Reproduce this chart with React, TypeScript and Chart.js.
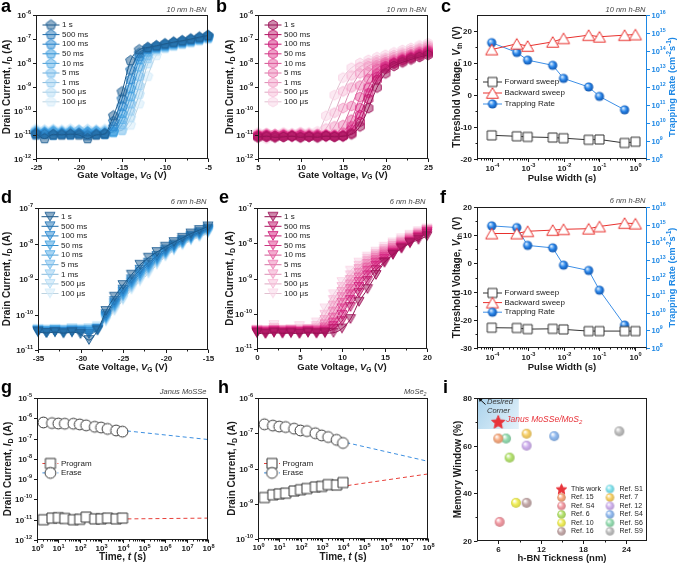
import { useEffect, useRef } from 'react';
import { Chart, registerables } from 'chart.js';

Chart.register(...registerables);

const PAGE_W = 678;
const PAGE_H = 565;
const FONT = 'Arial, "Liberation Sans", Helvetica, sans-serif';
const INK = '#1b1b1b';

// ---------------- transfer curves (a, b, d, e) ----------------
// Each row: log10 of drain current (A) at the matching gate voltage.
const PULSES = ['1 s', '500 ms', '100 ms', '50 ms', '10 ms', '5 ms', '1 ms', '500 μs', '100 μs'];

// a: 10 nm h-BN, negative sweep
const VG_A = [-25, -24, -23, -22, -21, -20, -19, -18, -17, -16, -15, -14, -13, -12, -11, -10, -9, -8, -7, -6, -5];
const A_1S = [-10.95, -11.15, -10.97, -11.0, -10.96, -11.0, -11.15, -11.0, -10.95, -10.2, -9.2, -7.9, -7.45, -7.35, -7.28, -7.2, -7.13, -7.07, -7.0, -6.92, -6.85];
const A_500MS = [-11.0, -10.98, -11.02, -10.97, -11.0, -10.95, -11.03, -10.98, -10.97, -10.43, -9.5, -8.29, -7.59, -7.38, -7.3, -7.22, -7.15, -7.09, -7.02, -6.95, -6.87];
const A_100MS = [-10.95, -10.92, -10.97, -10.94, -10.98, -10.93, -10.96, -10.95, -10.96, -10.65, -9.8, -8.68, -7.72, -7.41, -7.32, -7.24, -7.17, -7.11, -7.04, -6.97, -6.89];
const A_50MS = [-10.9, -10.93, -10.88, -10.92, -10.9, -10.94, -10.89, -10.92, -10.93, -10.85, -10.1, -9.07, -7.86, -7.44, -7.35, -7.27, -7.19, -7.13, -7.06, -6.99, -6.91];
const A_10MS = [-10.88, -10.9, -10.86, -10.91, -10.87, -10.9, -10.88, -10.86, -10.9, -10.9, -10.35, -9.4, -8.16, -7.54, -7.38, -7.3, -7.21, -7.15, -7.08, -7.0, -6.93];
const A_5MS = [-10.85, -10.88, -10.84, -10.87, -10.86, -10.83, -10.88, -10.85, -10.86, -10.88, -10.57, -9.7, -8.55, -7.68, -7.4, -7.32, -7.24, -7.17, -7.1, -7.02, -6.95];
const A_1MS = [-10.83, -10.85, -10.82, -10.86, -10.84, -10.82, -10.85, -10.83, -10.84, -10.85, -10.8, -10.0, -8.94, -7.81, -7.43, -7.34, -7.26, -7.19, -7.12, -7.04, -6.96];
const A_500US = [-10.8, -10.82, -10.79, -10.83, -10.8, -10.81, -10.79, -10.82, -10.8, -10.82, -10.8, -10.28, -9.3, -8.03, -7.5, -7.37, -7.28, -7.21, -7.14, -7.06, -6.98];
const A_100US = [-10.75, -10.78, -10.76, -10.79, -10.75, -10.77, -10.76, -10.78, -10.76, -10.77, -10.78, -10.58, -9.7, -8.55, -7.68, -7.4, -7.3, -7.23, -7.16, -7.08, -7.0];

// b: 10 nm h-BN, positive sweep
const VG_B = [5, 6, 7, 8, 9, 10, 11, 12, 13, 14, 15, 16, 17, 18, 19, 20, 21, 22, 23, 24, 25];
const B_1S = [-11.1, -11.05, -11.1, -11.08, -11.05, -11.1, -11.07, -11.1, -11.05, -11.08, -11.05, -10.97, -10.64, -9.88, -9.02, -8.43, -8.12, -7.97, -7.85, -7.75, -7.66];
const B_500MS = [-11.05, -11.08, -11.04, -11.07, -11.05, -11.08, -11.05, -11.07, -11.04, -11.06, -11.05, -10.92, -10.45, -9.5, -8.7, -8.25, -8.03, -7.9, -7.79, -7.69, -7.6];
const B_100MS = [-11.05, -11.02, -11.06, -11.03, -11.05, -11.02, -11.06, -11.03, -11.05, -11.04, -11.03, -10.78, -10.17, -9.26, -8.57, -8.18, -8.0, -7.87, -7.76, -7.65, -7.55];
const B_50MS = [-11.02, -11.0, -11.05, -11.0, -11.03, -11.0, -11.05, -11.02, -11.0, -11.03, -11.0, -10.64, -9.88, -9.02, -8.43, -8.12, -7.97, -7.84, -7.72, -7.61, -7.5];
const B_10MS = [-11.0, -11.03, -10.98, -11.02, -11.0, -11.04, -10.99, -11.02, -11.0, -11.01, -10.9, -10.36, -9.42, -8.66, -8.23, -8.02, -7.9, -7.78, -7.66, -7.55, -7.45];
const B_5MS = [-11.0, -10.97, -11.02, -10.98, -11.0, -10.96, -11.0, -10.98, -11.0, -10.98, -10.59, -9.79, -8.94, -8.39, -8.1, -7.96, -7.85, -7.73, -7.62, -7.51, -7.4];
const B_1MS = [-10.97, -10.95, -11.0, -10.96, -10.98, -10.94, -10.97, -10.95, -10.96, -10.64, -9.88, -9.02, -8.43, -8.12, -7.98, -7.87, -7.76, -7.65, -7.54, -7.43, -7.32];
const B_500US = [-10.95, -10.92, -10.97, -10.93, -10.95, -10.9, -10.94, -10.96, -10.73, -10.07, -9.18, -8.52, -8.16, -8.0, -7.88, -7.78, -7.67, -7.56, -7.46, -7.36, -7.26];
const B_100US = [-10.9, -11.15, -10.95, -10.9, -10.93, -10.9, -10.9, -10.85, -10.2, -9.34, -8.61, -8.2, -8.0, -7.87, -7.76, -7.66, -7.56, -7.46, -7.37, -7.27, -7.18];

// d: 6 nm h-BN, negative sweep
const VG_D = [-35, -34, -33, -32, -31, -30, -29, -28, -27, -26, -25, -24, -23, -22, -21, -20, -19, -18, -17, -16, -15];
const D_1S = [-10.48, -10.52, -10.5, -10.53, -10.5, -10.55, -10.72, -10.45, -9.9, -9.5, -9.17, -8.88, -8.6, -8.4, -8.24, -8.09, -7.96, -7.84, -7.72, -7.62, -7.52];
const D_500MS = [-10.5, -10.52, -10.49, -10.51, -10.5, -10.5, -10.55, -10.42, -9.99, -9.62, -9.3, -9.01, -8.74, -8.54, -8.35, -8.17, -8.03, -7.9, -7.78, -7.68, -7.58];
const D_100MS = [-10.47, -10.5, -10.48, -10.5, -10.47, -10.49, -10.5, -10.42, -10.04, -9.68, -9.36, -9.07, -8.81, -8.6, -8.4, -8.22, -8.07, -7.93, -7.81, -7.71, -7.61];
const D_50MS = [-10.46, -10.48, -10.45, -10.49, -10.47, -10.46, -10.48, -10.42, -10.07, -9.72, -9.41, -9.11, -8.86, -8.65, -8.44, -8.24, -8.09, -7.96, -7.83, -7.73, -7.63];
const D_10MS = [-10.45, -10.47, -10.45, -10.47, -10.44, -10.46, -10.45, -10.42, -10.1, -9.76, -9.45, -9.15, -8.91, -8.69, -8.47, -8.27, -8.12, -7.98, -7.85, -7.75, -7.65];
const D_5MS = [-10.44, -10.46, -10.44, -10.45, -10.43, -10.45, -10.44, -10.4, -10.12, -9.79, -9.48, -9.18, -8.94, -8.72, -8.5, -8.29, -8.13, -7.99, -7.86, -7.76, -7.66];
const D_1MS = [-10.43, -10.45, -10.43, -10.44, -10.42, -10.44, -10.42, -10.38, -10.14, -9.82, -9.51, -9.22, -8.98, -8.76, -8.53, -8.31, -8.15, -8.01, -7.88, -7.78, -7.68];
const D_500US = [-10.42, -10.43, -10.42, -10.43, -10.4, -10.42, -10.4, -10.36, -10.17, -9.86, -9.56, -9.26, -9.02, -8.81, -8.56, -8.34, -8.18, -8.03, -7.9, -7.8, -7.7];
const D_100US = [-10.4, -10.42, -10.4, -10.42, -10.38, -10.4, -10.38, -10.32, -10.2, -9.9, -9.6, -9.3, -9.07, -8.85, -8.6, -8.37, -8.2, -8.05, -7.92, -7.82, -7.72];

// e: 6 nm h-BN, positive sweep
const VG_E = [0, 1, 2, 3, 4, 5, 6, 7, 8, 9, 10, 11, 12, 13, 14, 15, 16, 17, 18, 19, 20];
const E_1S = [-10.55, -10.57, -10.54, -10.56, -10.55, -10.57, -10.54, -10.56, -10.55, -10.54, -10.42, -10.15, -9.66, -9.3, -8.9, -8.55, -8.33, -8.15, -8.0, -7.9, -7.8];
const E_500MS = [-10.53, -10.55, -10.52, -10.54, -10.53, -10.55, -10.52, -10.54, -10.52, -10.43, -10.21, -9.81, -9.41, -9.07, -8.76, -8.53, -8.3, -8.13, -7.98, -7.85, -7.74];
const E_100MS = [-10.52, -10.53, -10.5, -10.53, -10.51, -10.52, -10.5, -10.53, -10.5, -10.35, -10.03, -9.61, -9.24, -8.91, -8.64, -8.44, -8.27, -8.11, -7.97, -7.83, -7.7];
const E_50MS = [-10.5, -10.52, -10.49, -10.51, -10.5, -10.52, -10.49, -10.5, -10.45, -10.25, -9.85, -9.45, -9.1, -8.78, -8.55, -8.38, -8.23, -8.08, -7.94, -7.81, -7.68];
const E_10MS = [-10.49, -10.5, -10.47, -10.5, -10.48, -10.5, -10.47, -10.48, -10.39, -10.11, -9.69, -9.3, -8.97, -8.69, -8.48, -8.32, -8.18, -8.04, -7.91, -7.78, -7.66];
const E_5MS = [-10.48, -10.49, -10.46, -10.48, -10.47, -10.49, -10.47, -10.46, -10.3, -9.94, -9.53, -9.17, -8.84, -8.59, -8.41, -8.26, -8.13, -8.0, -7.88, -7.76, -7.64];
const E_1MS = [-10.47, -10.48, -10.45, -10.47, -10.46, -10.47, -10.45, -10.42, -10.18, -9.77, -9.38, -9.04, -8.73, -8.51, -8.35, -8.21, -8.08, -7.96, -7.85, -7.73, -7.62];
const E_500US = [-10.46, -10.47, -10.4, -10.46, -10.45, -10.44, -10.43, -10.35, -10.03, -9.61, -9.24, -8.91, -8.64, -8.44, -8.3, -8.16, -8.03, -7.92, -7.81, -7.7, -7.61];
const E_100US = [-10.45, -10.46, -10.32, -10.45, -10.44, -10.35, -10.43, -10.25, -9.85, -9.45, -9.1, -8.78, -8.55, -8.38, -8.24, -8.1, -7.98, -7.86, -7.76, -7.66, -7.58];

// ---------------- threshold voltage vs pulse width (c, f) ----------------
const PULSE_S = [1e-4, 5e-4, 1e-3, 5e-3, 1e-2, 5e-2, 1e-1, 5e-1, 1];
const C_FWD = [-12.6, -12.9, -13.1, -13.3, -13.5, -14.0, -13.9, -15.0, -14.6];
const C_BWD = [14.2, 16.0, 15.3, 16.6, 17.7, 18.7, 18.2, 18.7, 18.9];
const C_TRAP = [2.9e14, 8.3e13, 3.1e13, 1.6e13, 3.0e12, 1.0e12, 3.0e11, 5.4e10];
const F_FWD = [-22.8, -22.9, -23.3, -23.2, -23.4, -24.0, -24.0, -24.0, -24.0];
const F_BWD = [10.6, 10.6, 11.4, 11.8, 12.1, 12.3, 13.1, 14.3, 14.1];
const F_TRAP = [8.5e14, 6.8e14, 6.6e13, 4.8e13, 5.0e12, 2.5e12, 1.9e11, 2.0e9];

// ---------------- retention (g, h) ----------------
const T_RET = [2, 5, 10, 20, 50, 100, 200, 500, 1000, 2000, 5000, 10000];
const G_ERASE = [6.2e-7, 5.8e-7, 5.5e-7, 5.4e-7, 5.4e-7, 5.0e-7, 4.5e-7, 3.8e-7, 3.5e-7, 3.0e-7, 2.5e-7, 2.2e-7];
const G_PROG = [1.0e-11, 1.2e-11, 1.25e-11, 1.15e-11, 1.0e-11, 1.05e-11, 1.35e-11, 1.1e-11, 1.1e-11, 1.2e-11, 1.1e-11, 1.2e-11];
const H_ERASE = [1.8e-7, 1.65e-7, 1.55e-7, 1.5e-7, 1.35e-7, 1.2e-7, 1.15e-7, 1.0e-7, 8.7e-8, 7.8e-8, 6.5e-8, 5.3e-8];
const H_PROG = [1.5e-9, 1.8e-9, 1.9e-9, 2.0e-9, 2.3e-9, 2.5e-9, 2.7e-9, 3.0e-9, 3.1e-9, 3.5e-9, 3.4e-9, 4.0e-9];
// extrapolated trends (start / end of the dashed fits)
const FIT_T = [2, 1e8];
const G_ERASE_FIT = [6.5e-7, 9.0e-8];
const G_PROG_FIT = [1.0e-11, 1.2e-11];
const H_ERASE_FIT = [1.85e-7, 1.6e-8];
const H_PROG_FIT = [1.5e-9, 7.0e-9];

// ---------------- benchmark (i) ----------------
const I_LABELS = ['This work', 'Ref. 15', 'Ref. S4', 'Ref. 6', 'Ref. 10', 'Ref. 16', 'Ref. S1', 'Ref. 7', 'Ref. 12', 'Ref. S4', 'Ref. S6', 'Ref. S9'];
const I_THICK = [6.0, 6.0, 6.2, 7.6, 8.5, 10.0, null, 10.0, 10.0, 13.9, 7.1, 23.1];
const I_MW = [70, 63, 28, 55, 36, 36, null, 65, 60, 64, 63, 66];
const I_COLORS = ['#e8333a', '#f5a97f', '#f29aa3', '#b5e36f', '#f0ee5a', '#c4a9a9', '#7fe3ee', '#f7cf66', '#cfb0ee', '#8fb9ef', '#93dcb0', '#bdbdbd'];
const CORNER_X = [3, 8.9];
const CORNER_Y = [67, 80];

const BLUES = ['#1f5f94', '#2577b8', '#2b8bd4', '#3c9de0', '#58aee8', '#78beee', '#97cef2', '#b6ddf6', '#d3ebfa'];
const PINKS = ['#a0135a', '#bf176c', '#d31f7d', '#df3d8f', '#e85ea2', '#ee7fb5', '#f39dc7', '#f7bbd8', '#fad5e7'];

// ---------------- drawing helpers ----------------
type Seg = { t: string; it: boolean; sub: boolean; sup: boolean };

function parseRich(s: string): Seg[] {
  const out: Seg[] = [];
  let it = false;
  let mode = '';
  let buf = '';
  const flush = () => {
    if (buf) out.push({ t: buf, it, sub: mode === '_', sup: mode === '^' });
    buf = '';
  };
  for (let i = 0; i < s.length; i++) {
    const ch = s[i];
    if (ch === '*') {
      flush();
      it = !it;
    } else if ((ch === '_' || ch === '^') && s[i + 1] === '{') {
      flush();
      mode = ch;
      i++;
    } else if (ch === '}' && mode) {
      flush();
      mode = '';
    } else buf += ch;
  }
  flush();
  return out;
}

interface TextOpts {
  size: number;
  weight?: string;
  color?: string;
  align?: 'left' | 'center' | 'right';
  rot?: number;
}

function drawText(ctx: CanvasRenderingContext2D, s: string, x: number, y: number, o: TextOpts) {
  const segs = parseRich(s);
  const weight = o.weight || 'normal';
  const fontOf = (g: Seg) => `${g.it ? 'italic ' : ''}${weight} ${g.sub || g.sup ? o.size * 0.7 : o.size}px ${FONT}`;
  ctx.save();
  let w = 0;
  for (const g of segs) {
    ctx.font = fontOf(g);
    w += ctx.measureText(g.t).width;
  }
  ctx.translate(x, y);
  if (o.rot) ctx.rotate(o.rot);
  ctx.fillStyle = o.color || INK;
  ctx.textBaseline = 'middle';
  ctx.textAlign = 'left';
  let cx = o.align === 'right' ? -w : o.align === 'left' ? 0 : -w / 2;
  for (const g of segs) {
    ctx.font = fontOf(g);
    const dy = g.sub ? o.size * 0.28 : g.sup ? -o.size * 0.36 : 0;
    ctx.fillText(g.t, cx, dy);
    cx += ctx.measureText(g.t).width;
  }
  ctx.restore();
}

function rgba(hex: string, a: number) {
  const n = parseInt(hex.slice(1), 16);
  return `rgba(${(n >> 16) & 255},${(n >> 8) & 255},${n & 255},${a})`;
}

function shade(hex: string, f: number) {
  const n = parseInt(hex.slice(1), 16);
  const c = (v: number) => Math.max(0, Math.min(255, Math.round(v * f)));
  return `rgb(${c((n >> 16) & 255)},${c((n >> 8) & 255)},${c(n & 255)})`;
}

function makeMarker(shape: string, r: number, fill: string, stroke: string, lw = 1): HTMLCanvasElement {
  const size = Math.ceil(2 * r + 2 * lw + 2);
  const cv = document.createElement('canvas');
  cv.width = size;
  cv.height = size;
  const g = cv.getContext('2d') as CanvasRenderingContext2D;
  const c = size / 2;
  g.beginPath();
  if (shape === 'circle') g.arc(c, c, r, 0, Math.PI * 2);
  else if (shape === 'square') g.rect(c - r, c - r, 2 * r, 2 * r);
  else if (shape === 'star') {
    for (let i = 0; i < 10; i++) {
      const rr = i % 2 ? r * 0.45 : r;
      const a = -Math.PI / 2 + (i * Math.PI) / 5;
      const px = c + rr * Math.cos(a);
      const py = c + 0.6 + rr * Math.sin(a);
      if (i) g.lineTo(px, py);
      else g.moveTo(px, py);
    }
  } else {
    const n = shape === 'pentagon' ? 5 : shape === 'hexagon' ? 6 : 3;
    const a0 = shape === 'triDown' ? Math.PI / 2 : -Math.PI / 2;
    const cy = shape === 'triDown' ? c - r / 4 : shape === 'triUp' ? c + r / 4 : c;
    for (let i = 0; i < n; i++) {
      const a = a0 + (i * 2 * Math.PI) / n;
      const px = c + r * Math.cos(a);
      const py = cy + r * Math.sin(a);
      if (i) g.lineTo(px, py);
      else g.moveTo(px, py);
    }
  }
  g.closePath();
  if (fill !== 'none') {
    g.fillStyle = fill;
    g.fill();
  }
  g.lineWidth = lw;
  g.strokeStyle = stroke;
  g.stroke();
  return cv;
}

function makeSphere(r: number, base: string, hi = '#ffffff', edge?: string): HTMLCanvasElement {
  const size = Math.ceil(2 * r + 2);
  const cv = document.createElement('canvas');
  cv.width = size;
  cv.height = size;
  const g = cv.getContext('2d') as CanvasRenderingContext2D;
  const c = size / 2;
  const grad = g.createRadialGradient(c - r * 0.35, c - r * 0.4, r * 0.08, c, c, r * 1.05);
  grad.addColorStop(0, hi);
  grad.addColorStop(0.5, base);
  grad.addColorStop(1, edge || shade(base, 0.85));
  g.fillStyle = grad;
  g.beginPath();
  g.arc(c, c, r, 0, Math.PI * 2);
  g.fill();
  return cv;
}

function logMinors(lo: number, hi: number): number[] {
  const out: number[] = [];
  for (let e = Math.floor(Math.log10(lo)); e <= Math.ceil(Math.log10(hi)); e++) {
    for (let k = 2; k <= 9; k++) {
      const v = k * Math.pow(10, e);
      if (v > lo && v < hi) out.push(v);
    }
  }
  return out;
}

const pow10Label = (e: number) => `10^{${e}}`;

// ---------------- panel decoration plugin ----------------
interface AxisDef {
  id: string;
  side: 'bottom' | 'left' | 'right';
  major: number[];
  labels: string[];
  minor?: number[];
  color?: string;
  title: string;
  titleGap: number;
  titleSize?: number;
  labelGap?: number;
  labelSize?: number;
}
interface LegendItem {
  text: string;
  img: HTMLCanvasElement;
  line?: string;
  dash?: number[];
}
interface LegendDef {
  x: number;
  y: number;
  dy: number;
  len: number;
  size?: number;
  items: LegendItem[];
}
interface Decor {
  letter: string;
  letterAt: number[];
  note: string;
  noteY: number;
  axes: AxisDef[];
  legends: LegendDef[];
  rightColor?: string;
  under?: (chart: any) => void;
  over?: (chart: any) => void;
}

function decorPlugin(d: Decor) {
  return {
    id: 'decor',
    beforeDatasetsDraw(chart: any) {
      if (d.under) d.under(chart);
    },
    afterDraw(chart: any) {
      const ctx: CanvasRenderingContext2D = chart.ctx;
      const { left: L, top: T, right: R, bottom: B } = chart.chartArea;
      ctx.save();
      ctx.lineWidth = 1;
      const seg = (x1: number, y1: number, x2: number, y2: number, c: string) => {
        ctx.strokeStyle = c;
        ctx.beginPath();
        ctx.moveTo(x1, y1);
        ctx.lineTo(x2, y2);
        ctx.stroke();
      };
      const l = Math.round(L) + 0.5;
      const r = Math.round(R) - 0.5;
      const t = Math.round(T) + 0.5;
      const b = Math.round(B) - 0.5;
      seg(l - 0.5, t, r + 0.5, t, INK);
      seg(l - 0.5, b, r + 0.5, b, INK);
      seg(l, t, l, b, INK);
      seg(r, t - 0.5, r, b + 0.5, d.rightColor || INK);

      for (const ax of d.axes) {
        const sc = chart.scales[ax.id];
        const col = ax.color || INK;
        const pos = (v: number) => Math.round(sc.getPixelForValue(v)) + 0.5;
        const maj = 3.5;
        const mnr = 2;
        const ls = ax.labelSize || 8;
        const ts = ax.titleSize || 10;
        if (ax.side === 'bottom') {
          for (const v of ax.minor || []) {
            const x = pos(v);
            seg(x, b, x, b + mnr, col);
          }
          ax.major.forEach((v, i) => {
            const x = pos(v);
            seg(x, b, x, b + maj, col);
            drawText(ctx, ax.labels[i], x, B + (ax.labelGap || 8.5), { size: ls, weight: 'bold', color: col, align: 'center' });
          });
          drawText(ctx, ax.title, (L + R) / 2, B + ax.titleGap, { size: ts, weight: 'bold', color: col, align: 'center' });
        } else if (ax.side === 'left') {
          for (const v of ax.minor || []) {
            const y = pos(v);
            seg(l - mnr, y, l, y, col);
          }
          ax.major.forEach((v, i) => {
            const y = pos(v);
            seg(l - maj, y, l, y, col);
            drawText(ctx, ax.labels[i], L - (ax.labelGap || 5), y, { size: ls, weight: 'bold', color: col, align: 'right' });
          });
          drawText(ctx, ax.title, L - ax.titleGap, (T + B) / 2, { size: ts, weight: 'bold', color: col, align: 'center', rot: -Math.PI / 2 });
        } else {
          for (const v of ax.minor || []) {
            const y = pos(v);
            seg(r, y, r + mnr, y, col);
          }
          ax.major.forEach((v, i) => {
            const y = pos(v);
            seg(r, y, r + maj, y, col);
            drawText(ctx, ax.labels[i], R + (ax.labelGap || 5), y, { size: ls, weight: 'bold', color: col, align: 'left' });
          });
          drawText(ctx, ax.title, R + ax.titleGap, (T + B) / 2, { size: ts, weight: 'bold', color: col, align: 'center', rot: -Math.PI / 2 });
        }
      }

      for (const lg of d.legends) {
        lg.items.forEach((it, i) => {
          const y = lg.y + i * lg.dy;
          if (it.line) {
            ctx.save();
            ctx.setLineDash(it.dash || []);
            seg(lg.x - lg.len / 2, y, lg.x + lg.len / 2, y, it.line);
            ctx.restore();
          }
          ctx.drawImage(it.img, lg.x - it.img.width / 2, y - it.img.height / 2);
          drawText(ctx, it.text, lg.x + lg.len / 2 + 2.5, y, { size: lg.size || 8, align: 'left' });
        });
      }

      if (d.note) drawText(ctx, `*${d.note}*`, R - 1.5, d.noteY, { size: 7.5, color: '#444', align: 'right' });
      drawText(ctx, d.letter, d.letterAt[0], d.letterAt[1], { size: 18, weight: 'bold', align: 'left', color: '#000' });
      if (d.over) d.over(chart);
      ctx.restore();
    },
  };
}

function makeChart(canvas: HTMLCanvasElement, box: number[], scales: any, datasets: any[], decor: Decor) {
  const [L, T, R, B] = box;
  return new Chart(canvas, {
    type: 'scatter',
    data: { datasets },
    options: {
      responsive: false,
      animation: false,
      devicePixelRatio: 1,
      events: [],
      layout: { padding: { left: L, top: T, right: PAGE_W - R, bottom: PAGE_H - B } },
      plugins: { legend: { display: false }, tooltip: { enabled: false } },
      scales,
    } as any,
    plugins: [decorPlugin(decor) as any],
  });
}

// ---------------- panel builders ----------------
interface TransferCfg {
  box: number[];
  xs: number[];
  rows: number[][];
  colors: string[];
  shape: string;
  r: number;
  xMin: number;
  xMax: number;
  xMajor: number[];
  xMinor: number[];
  decades: number[];
  letter: string;
  letterAt: number[];
  note: string;
  noteY: number;
  legendAt: number[];
  titleGapL: number;
  titleGapB: number;
}

function buildTransfer(canvas: HTMLCanvasElement, c: TransferCfg) {
  const imgs = c.colors.map((col) => makeMarker(c.shape, c.r, rgba(col, 0.5), rgba(col, 0.9)));
  const datasets = c.rows.map((row, k) => ({
    data: c.xs.map((x, i) => ({ x, y: Math.pow(10, row[i]) })),
    showLine: true,
    borderColor: shade(c.colors[k], 0.9),
    borderWidth: 1,
    cubicInterpolationMode: 'monotone',
    pointStyle: imgs[k],
    pointRadius: c.r,
    clip: false,
  }));
  const decor: Decor = {
    letter: c.letter,
    letterAt: c.letterAt,
    note: c.note,
    noteY: c.noteY,
    axes: [
      { id: 'x', side: 'bottom', major: c.xMajor, labels: c.xMajor.map(String), minor: c.xMinor, title: 'Gate Voltage, *V*_{G} (V)', titleGap: c.titleGapB, titleSize: 9.5 },
      { id: 'y', side: 'left', major: c.decades.map((e) => Math.pow(10, e)), labels: c.decades.map(pow10Label), title: 'Drain Current, *I*_{D} (A)', titleGap: c.titleGapL },
    ],
    legends: [
      { x: c.legendAt[0], y: c.legendAt[1], dy: 9.6, len: 17, items: PULSES.map((t, k) => ({ text: t, img: imgs[k], line: shade(c.colors[k], 0.9) })) },
    ],
  };
  return makeChart(
    canvas,
    c.box,
    {
      x: { type: 'linear', display: false, min: c.xMin, max: c.xMax },
      y: { type: 'logarithmic', display: false, min: Math.pow(10, c.decades[0]), max: Math.pow(10, c.decades[c.decades.length - 1]) },
    },
    datasets,
    decor,
  );
}

interface VthCfg {
  box: number[];
  fwd: number[];
  bwd: number[];
  trap: number[];
  yMin: number;
  yMax: number;
  yMajor: number[];
  yMinor: number[];
  letter: string;
  letterAt: number[];
  note: string;
  noteY: number;
  legendY: number;
  legendDy: number;
}

const TRAP_BLUE = '#1e88e5';

function buildVth(canvas: HTMLCanvasElement, c: VthCfg) {
  const sq = makeMarker('square', 4.5, '#ffffff', '#333333');
  const tri = makeMarker('triUp', 7, '#ffffff', '#e8302d');
  const ball = makeSphere(4.6, '#2a86ea', '#dcefff', '#0c4fa6');
  const xMin = 3.9e-5;
  const xMax = 2.1;
  const datasets = [
    { data: PULSE_S.map((x, i) => ({ x, y: c.fwd[i] })), yAxisID: 'y', showLine: true, borderColor: '#333333', borderWidth: 1, pointStyle: sq, pointRadius: 5, clip: false },
    { data: PULSE_S.map((x, i) => ({ x, y: c.bwd[i] })), yAxisID: 'y', showLine: true, borderColor: '#e8302d', borderWidth: 1, pointStyle: tri, pointRadius: 5, clip: false },
    { data: c.trap.map((v, i) => ({ x: PULSE_S[i], y: v })), yAxisID: 'y2', showLine: true, borderColor: '#3d8fe6', borderWidth: 1, pointStyle: ball, pointRadius: 5, clip: false },
  ];
  const xDec = [-4, -3, -2, -1, 0];
  const yDec = [8, 9, 10, 11, 12, 13, 14, 15, 16];
  const decor: Decor = {
    letter: c.letter,
    letterAt: c.letterAt,
    note: c.note,
    noteY: c.noteY,
    rightColor: TRAP_BLUE,
    axes: [
      { id: 'x', side: 'bottom', major: xDec.map((e) => Math.pow(10, e)), labels: xDec.map(pow10Label), minor: logMinors(xMin, xMax), title: 'Pulse Width (s)', titleGap: 19.5, labelGap: 9.5, titleSize: 9.5 },
      { id: 'y', side: 'left', major: c.yMajor, labels: c.yMajor.map(String), minor: c.yMinor, title: 'Threshold Voltage, *V*_{th} (V)', titleGap: 20 },
      { id: 'y2', side: 'right', major: yDec.map((e) => Math.pow(10, e)), labels: yDec.map(pow10Label), color: TRAP_BLUE, title: 'Trapping Rate (cm^{-2}s^{-1})', titleGap: 25.5, titleSize: 9.2, labelSize: 7.5, labelGap: 4.5 },
    ],
    legends: [
      {
        x: 492.5,
        y: c.legendY,
        dy: c.legendDy,
        len: 19,
        items: [
          { text: 'Forward sweep', img: sq, line: '#333333' },
          { text: 'Backward sweep', img: tri, line: '#e8302d' },
          { text: 'Trapping Rate', img: ball, line: '#3d8fe6' },
        ],
      },
    ],
  };
  return makeChart(
    canvas,
    c.box,
    {
      x: { type: 'logarithmic', display: false, min: xMin, max: xMax },
      y: { type: 'linear', display: false, min: c.yMin, max: c.yMax },
      y2: { type: 'logarithmic', position: 'right', display: false, min: 1e8, max: 1e16 },
    },
    datasets,
    decor,
  );
}

interface RetCfg {
  box: number[];
  erase: number[];
  prog: number[];
  eraseFit: number[];
  progFit: number[];
  decades: number[];
  letter: string;
  letterAt: number[];
  note: string;
  legendX: number;
  titleGapL: number;
  titleGapB: number;
}

function buildRetention(canvas: HTMLCanvasElement, c: RetCfg) {
  const sq = makeMarker('square', 5, '#ffffff', '#333333');
  const circ = makeMarker('circle', 5.4, '#ffffff', '#333333');
  const red = '#e8403a';
  const blue = '#3d8fe0';
  const datasets = [
    { data: T_RET.map((x, i) => ({ x, y: c.prog[i] })), pointStyle: sq, pointRadius: 5, clip: false },
    { data: T_RET.map((x, i) => ({ x, y: c.erase[i] })), pointStyle: circ, pointRadius: 5, clip: false },
    { data: FIT_T.map((x, i) => ({ x, y: c.progFit[i] })), showLine: true, borderColor: red, borderWidth: 1, borderDash: [4, 3], pointRadius: 0 },
    { data: FIT_T.map((x, i) => ({ x, y: c.eraseFit[i] })), showLine: true, borderColor: blue, borderWidth: 1, borderDash: [4, 3], pointRadius: 0 },
  ];
  const tDec = [0, 1, 2, 3, 4, 5, 6, 7, 8];
  const decor: Decor = {
    letter: c.letter,
    letterAt: c.letterAt,
    note: c.note,
    noteY: 392,
    axes: [
      { id: 'x', side: 'bottom', major: tDec.map((e) => Math.pow(10, e)), labels: tDec.map(pow10Label), minor: logMinors(1, 1e8), title: 'Time, *t* (s)', titleGap: c.titleGapB, labelGap: 9 },
      { id: 'y', side: 'left', major: c.decades.map((e) => Math.pow(10, e)), labels: c.decades.map(pow10Label), title: 'Drain Current, *I*_{D} (A)', titleGap: c.titleGapL },
    ],
    legends: [
      {
        x: c.legendX,
        y: 463.5,
        dy: 9.4,
        len: 16,
        items: [
          { text: 'Program', img: sq, line: red, dash: [3, 2] },
          { text: 'Erase', img: circ, line: blue, dash: [3, 2] },
        ],
      },
    ],
  };
  return makeChart(
    canvas,
    c.box,
    {
      x: { type: 'logarithmic', display: false, min: 1, max: 1e8 },
      y: { type: 'logarithmic', display: false, min: Math.pow(10, c.decades[0]), max: Math.pow(10, c.decades[c.decades.length - 1]) },
    },
    datasets,
    decor,
  );
}

function buildBenchmark(canvas: HTMLCanvasElement) {
  const imgs = I_COLORS.map((col, k) => (k === 0 ? makeMarker('star', 7, col, col) : makeSphere(5, col)));
  const keyImgs = I_COLORS.map((col, k) => (k === 0 ? makeMarker('star', 5.5, col, col) : makeSphere(4.3, col)));
  const datasets = I_LABELS.map((lab, k) => ({
    label: lab,
    data: I_THICK[k] === null ? [] : [{ x: I_THICK[k], y: I_MW[k] }],
    pointStyle: imgs[k],
    pointRadius: 5,
    clip: false,
  }));
  const items = I_LABELS.map((t, k) => ({ text: t, img: keyImgs[k] }));
  const decor: Decor = {
    letter: 'i',
    letterAt: [443, 388.5],
    note: '',
    noteY: 392,
    axes: [
      { id: 'x', side: 'bottom', major: [6, 12, 18, 24], labels: ['6', '12', '18', '24'], minor: [9, 15, 21], title: 'h-BN Tickness (nm)', titleGap: 17.5, titleSize: 9.5 },
      { id: 'y', side: 'left', major: [20, 40, 60, 80], labels: ['20', '40', '60', '80'], minor: [30, 50, 70], title: 'Memory Window (%)', titleGap: 19 },
    ],
    legends: [
      { x: 561.5, y: 489, dy: 8.46, len: 14, size: 7, items: items.slice(0, 6) },
      { x: 610, y: 489, dy: 8.46, len: 14, size: 7, items: items.slice(6) },
    ],
    under(chart: any) {
      const ctx: CanvasRenderingContext2D = chart.ctx;
      const x1 = chart.scales.x.getPixelForValue(CORNER_X[0]);
      const x2 = chart.scales.x.getPixelForValue(CORNER_X[1]);
      const y1 = chart.scales.y.getPixelForValue(CORNER_Y[1]);
      const y2 = chart.scales.y.getPixelForValue(CORNER_Y[0]);
      const g = ctx.createLinearGradient(x1, y1, x2, y2);
      g.addColorStop(0, '#a9d2ec');
      g.addColorStop(1, '#e4f2fa');
      ctx.save();
      ctx.fillStyle = g;
      ctx.fillRect(x1, y1, x2 - x1, y2 - y1);
      ctx.restore();
    },
    over(chart: any) {
      const ctx: CanvasRenderingContext2D = chart.ctx;
      const { left: L, top: T } = chart.chartArea;
      drawText(ctx, '*Desired*', L + 10, T + 3.5, { size: 7.5, color: '#333', align: 'left' });
      drawText(ctx, '*Corner*', L + 10, T + 12.5, { size: 7.5, color: '#333', align: 'left' });
      ctx.save();
      ctx.strokeStyle = '#111';
      ctx.fillStyle = '#111';
      ctx.lineWidth = 1;
      ctx.beginPath();
      ctx.moveTo(L + 8.5, T + 6.5);
      ctx.lineTo(L + 2.5, T + 1);
      ctx.stroke();
      ctx.beginPath();
      ctx.moveTo(L + 1.5, T + 0);
      ctx.lineTo(L + 5.5, T + 1.2);
      ctx.lineTo(L + 2.7, T + 4);
      ctx.closePath();
      ctx.fill();
      ctx.restore();
      const sx = chart.scales.x.getPixelForValue(I_THICK[0]);
      const sy = chart.scales.y.getPixelForValue(I_MW[0]);
      drawText(ctx, '*Janus MoSSe/MoS_{2}*', sx + 8, sy - 2, { size: 8.5, color: '#e8333a', align: 'left' });
    },
  };
  return makeChart(
    canvas,
    [477, 398, 647, 541],
    {
      x: { type: 'linear', display: false, min: 3, max: 27 },
      y: { type: 'linear', display: false, min: 20, max: 80 },
    },
    datasets,
    decor,
  );
}

function buildAll(cv: HTMLCanvasElement[]) {
  return [
    buildTransfer(cv[0], {
      box: [36, 15, 208, 159], xs: VG_A, rows: [A_1S, A_500MS, A_100MS, A_50MS, A_10MS, A_5MS, A_1MS, A_500US, A_100US],
      colors: BLUES, shape: 'pentagon', r: 5.2, xMin: -25, xMax: -5, xMajor: [-25, -20, -15, -10, -5], xMinor: [-22.5, -17.5, -12.5, -7.5],
      decades: [-12, -11, -10, -9, -8, -7, -6], letter: 'a', letterAt: [1, 7.5], note: '10 nm h-BN', noteY: 10,
      legendAt: [51, 25], titleGapL: 29, titleGapB: 16,
    }),
    buildTransfer(cv[1], {
      box: [258, 15, 428, 159], xs: VG_B, rows: [B_1S, B_500MS, B_100MS, B_50MS, B_10MS, B_5MS, B_1MS, B_500US, B_100US],
      colors: PINKS, shape: 'hexagon', r: 5, xMin: 5, xMax: 25, xMajor: [5, 10, 15, 20, 25], xMinor: [7.5, 12.5, 17.5, 22.5],
      decades: [-12, -11, -10, -9, -8, -7, -6], letter: 'b', letterAt: [216, 7.5], note: '10 nm h-BN', noteY: 10,
      legendAt: [273, 25], titleGapL: 28, titleGapB: 16,
    }),
    buildVth(cv[2], {
      box: [477, 15, 647, 159], fwd: C_FWD, bwd: C_BWD, trap: C_TRAP, yMin: -20, yMax: 25,
      yMajor: [-20, -10, 0, 10, 20], yMinor: [-15, -5, 5, 15], letter: 'c', letterAt: [441, 7.5], note: '10 nm h-BN', noteY: 10, legendY: 82, legendDy: 11,
    }),
    buildTransfer(cv[3], {
      box: [38, 208, 208, 350], xs: VG_D, rows: [D_1S, D_500MS, D_100MS, D_50MS, D_10MS, D_5MS, D_1MS, D_500US, D_100US],
      colors: BLUES, shape: 'triDown', r: 5.8, xMin: -35, xMax: -15, xMajor: [-35, -30, -25, -20, -15], xMinor: [-32.5, -27.5, -22.5, -17.5],
      decades: [-11, -10, -9, -8, -7], letter: 'd', letterAt: [1, 198], note: '6 nm h-BN', noteY: 202,
      legendAt: [50, 216.7], titleGapL: 31, titleGapB: 17.7,
    }),
    buildTransfer(cv[4], {
      box: [257, 208, 427, 349], xs: VG_E, rows: [E_1S, E_500MS, E_100MS, E_50MS, E_10MS, E_5MS, E_1MS, E_500US, E_100US],
      colors: PINKS, shape: 'triDown', r: 5.8, xMin: 0, xMax: 20, xMajor: [0, 5, 10, 15, 20], xMinor: [2.5, 7.5, 12.5, 17.5],
      decades: [-11, -10, -9, -8, -7], letter: 'e', letterAt: [219, 198], note: '6 nm h-BN', noteY: 202,
      legendAt: [273, 216.7], titleGapL: 27, titleGapB: 18.7,
    }),
    buildVth(cv[5], {
      box: [477, 207, 647, 348], fwd: F_FWD, bwd: F_BWD, trap: F_TRAP, yMin: -30, yMax: 20,
      yMajor: [-30, -20, -10, 0, 10, 20], yMinor: [-25, -15, -5, 5, 15], letter: 'f', letterAt: [440, 198], note: '6 nm h-BN', noteY: 201, legendY: 293, legendDy: 9.6,
    }),
    buildRetention(cv[6], {
      box: [37, 398, 208, 540], erase: G_ERASE, prog: G_PROG, eraseFit: G_ERASE_FIT, progFit: G_PROG_FIT,
      decades: [-12, -11, -10, -9, -8, -7, -6, -5], letter: 'g', letterAt: [1, 388.5], note: 'Janus MoSSe',
      legendX: 50.4, titleGapL: 29, titleGapB: 17.7,
    }),
    buildRetention(cv[7], {
      box: [258, 398, 428, 539], erase: H_ERASE, prog: H_PROG, eraseFit: H_ERASE_FIT, progFit: H_PROG_FIT,
      decades: [-10, -9, -8, -7, -6], letter: 'h', letterAt: [218, 388.5], note: 'MoSe_{2}',
      legendX: 272, titleGapL: 26, titleGapB: 18.7,
    }),
    buildBenchmark(cv[8]),
  ];
}

export default function App() {
  const refs = useRef<(HTMLCanvasElement | null)[]>([]);

  useEffect(() => {
    const canvases = refs.current.slice(0, 9) as HTMLCanvasElement[];
    const charts = buildAll(canvases);
    return () => charts.forEach((c) => c.destroy());
  }, []);

  return (
    <div style={{ position: 'absolute', left: 0, top: 0, width: PAGE_W, height: PAGE_H, background: '#ffffff', overflow: 'hidden' }}>
      {Array.from({ length: 9 }, (_, i) => (
        <canvas
          key={i}
          ref={(el) => {
            refs.current[i] = el;
          }}
          width={PAGE_W}
          height={PAGE_H}
          style={{ position: 'absolute', left: 0, top: 0, width: PAGE_W, height: PAGE_H }}
        />
      ))}
    </div>
  );
}
